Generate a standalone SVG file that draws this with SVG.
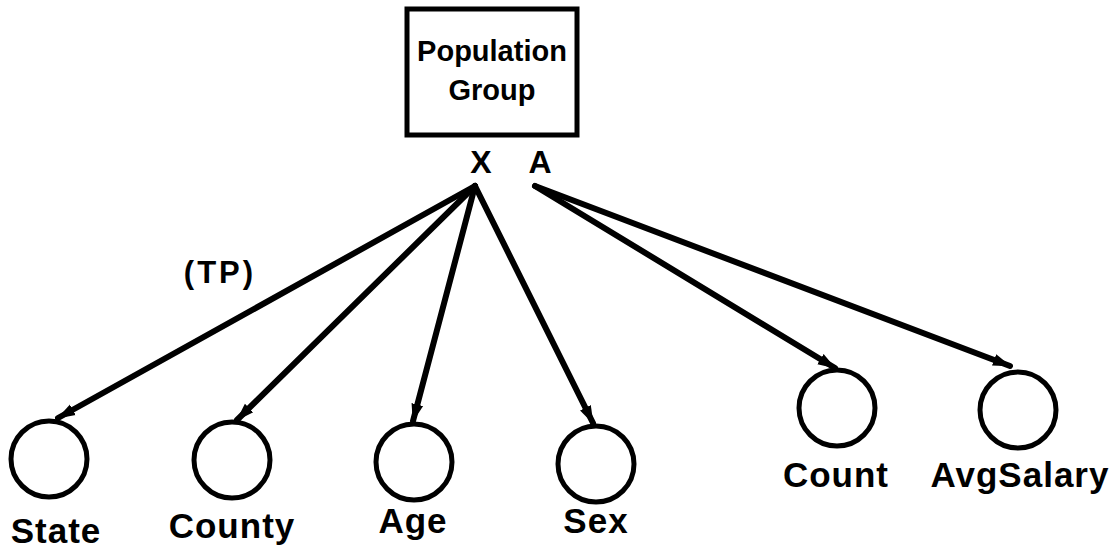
<svg xmlns="http://www.w3.org/2000/svg" width="1119" height="552" viewBox="0 0 1119 552">
<style>
text{font-family:"Liberation Sans",Arial,sans-serif;font-weight:bold;fill:#000;text-anchor:middle}
.box{fill:#fff;stroke:#000;stroke-width:5}
.c{fill:none;stroke:#000;stroke-width:5}
.e{stroke:#000;stroke-width:6;fill:none;stroke-linecap:round;marker-end:url(#ah)}
.t{font-size:29px}
.xa{font-size:32px}
.l{font-size:35px;letter-spacing:1px}
</style>
<defs>
<marker id="ah" markerUnits="userSpaceOnUse" markerWidth="20" markerHeight="16" refX="17" refY="8" orient="auto">
<path d="M0,2 L18,8 L0,14 Z" fill="#000"/>
</marker>
</defs>
<rect width="1119" height="552" fill="#fff"/>
<g id="population-group">
<rect class="box" x="407" y="9" width="170" height="126"/>
<text class="t" x="492" y="61">Population</text>
<text class="t" x="492" y="100">Group</text>
<text class="xa" x="481" y="173">X</text>
<text class="xa" x="540" y="173">A</text>
</g>
<g id="connectors">
<line class="e" x1="475" y1="186" x2="58" y2="418"/>
<line class="e" x1="475" y1="186" x2="237" y2="420"/>
<line class="e" x1="475" y1="186" x2="413" y2="421"/>
<line class="e" x1="475" y1="186" x2="593" y2="423"/>
<line class="e" x1="535" y1="186" x2="835" y2="368"/>
<line class="e" x1="535" y1="186" x2="1010" y2="366"/>
<text x="220" y="283" style="font-size:31px;letter-spacing:3px">(TP)</text>
</g>
<g id="state">
<circle class="c" cx="49" cy="459" r="38"/>
<text class="l" x="56" y="543">State</text>
</g>
<g id="county">
<circle class="c" cx="232" cy="460" r="38"/>
<text class="l" x="232" y="538">County</text>
</g>
<g id="age">
<circle class="c" cx="414" cy="462" r="38"/>
<text class="l" x="413" y="533">Age</text>
</g>
<g id="sex">
<circle class="c" cx="596" cy="464" r="38"/>
<text class="l" x="596" y="533">Sex</text>
</g>
<g id="count">
<circle class="c" cx="837" cy="408" r="38"/>
<text class="l" x="836" y="487">Count</text>
</g>
<g id="avgsalary">
<circle class="c" cx="1018" cy="410" r="38"/>
<text class="l" x="1020" y="487">AvgSalary</text>
</g>
</svg>
